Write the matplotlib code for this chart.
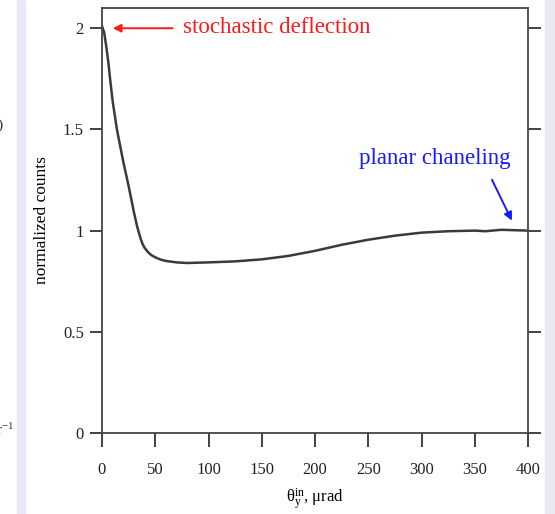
import numpy as np
import matplotlib
matplotlib.use('Agg')
import matplotlib.pyplot as plt
from matplotlib.patches import Rectangle

# angle of incidence (urad) and normalized counts
theta = [0, 2, 4, 6, 8, 10, 12, 14, 17, 20, 25, 30, 33, 36, 38, 40, 43, 46,
         50, 55, 60, 70, 80, 100, 125, 150, 175, 200, 225, 250, 275, 300,
         325, 350, 360, 375, 400]
counts = [2.01, 1.98, 1.91, 1.83, 1.73, 1.64, 1.57, 1.50, 1.42, 1.34, 1.22,
          1.09, 1.02, 0.965, 0.935, 0.915, 0.895, 0.88, 0.868, 0.857, 0.85,
          0.843, 0.84, 0.843, 0.848, 0.858, 0.875, 0.90, 0.93, 0.955, 0.975,
          0.99, 0.997, 1.0, 0.997, 1.004, 1.0]

yticks = [0, 0.5, 1, 1.5, 2]
ytick_labels = ['0', '0.5', '1', '1.5', '2']
xticks = [0, 50, 100, 150, 200, 250, 300, 350, 400]

plt.rcParams['font.family'] = ['Liberation Serif', 'DejaVu Serif']
plt.rcParams['mathtext.fontset'] = 'stix'
plt.rcParams['mathtext.default'] = 'regular'

fig = plt.figure(figsize=(5.55, 5.14), dpi=100)
fig.patch.set_facecolor('white')

# side strips left over from the page the chart was cut from
fig.add_artist(Rectangle((17 / 555, 0), 8 / 555, 1, transform=fig.transFigure,
                         color='#e9e9f5', zorder=0))
fig.add_artist(Rectangle((545 / 555, 0), 10 / 555, 1, transform=fig.transFigure,
                         color='#e9e9f5', zorder=0))
fig.text(-0.004, 1 - 125 / 514, ')', fontsize=11, color='#333333', va='center')
fig.text(-0.008, 1 - 430 / 514, r'r$^{-1}$', fontsize=11, color='#333333',
         va='center')

ax = fig.add_axes([102 / 555, 1 - 433 / 514, 426 / 555, 425 / 514])
ax.plot(theta, counts, color='#3a3a3a', lw=1.8, solid_capstyle='round',
        solid_joinstyle='round')

ax.set_xlim(0, 400)
ax.set_ylim(0, 2.1)
ax.set_xticks(xticks)
ax.set_yticks(yticks)
ax.set_yticklabels(ytick_labels)

ax.tick_params(axis='x', direction='out', length=10, width=1.2, pad=11,
               labelsize=12, colors='#222222')
ax.tick_params(axis='y', direction='out', length=9, width=1.2, pad=4,
               labelsize=12, colors='#222222', right=True)
for spine in ax.spines.values():
    spine.set_linewidth(1.3)
    spine.set_color('#444444')

ax.set_ylabel('normalized counts', fontsize=12.5, labelpad=9)
ax.set_xlabel(r'$\theta_y^{in}$, μrad', fontsize=12, labelpad=6)

ax.annotate('', xy=(7.5, 2.0), xytext=(69, 2.0),
            arrowprops=dict(arrowstyle='-|>', color='#ff1a1a', lw=1.4,
                            mutation_scale=12))
ax.text(76, 2.005, 'stochastic deflection', color='#ff1a1a', fontsize=16.5,
        va='center', ha='left')

ax.annotate('', xy=(386, 1.037), xytext=(365, 1.264),
            arrowprops=dict(arrowstyle='-|>', color='#1a1aff', lw=1.4,
                            mutation_scale=12))
ax.text(241, 1.358, 'planar chaneling', color='#1a1aff', fontsize=16.5,
        va='center', ha='left')

fig.savefig('out.png', dpi=100, facecolor='white')
